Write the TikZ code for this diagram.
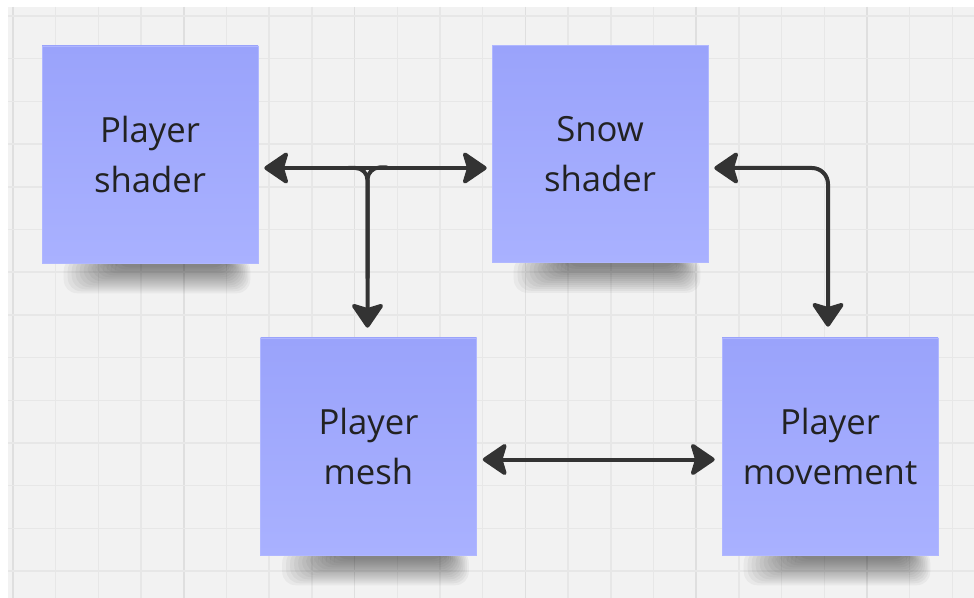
\documentclass[tikz,border=0pt]{standalone}
\usepackage{fontspec}
\setmainfont{Open Sans}
\usetikzlibrary{arrows.meta,calc}
\pgfdeclarelayer{grid}
\pgfdeclarelayer{shade}
\pgfsetlayers{grid,shade,main}
\definecolor{board}{HTML}{F2F2F2}
\definecolor{gridminor}{HTML}{E7E7E7}
\definecolor{gridmajor}{HTML}{DFDFDF}
\definecolor{noteTop}{HTML}{9AA3FB}
\definecolor{noteBot}{HTML}{A9B1FF}
\definecolor{noteEdge}{HTML}{B0B7FF}
\definecolor{ink}{HTML}{222222}
\definecolor{wire}{HTML}{333333}
\begin{document}
\begin{tikzpicture}[x=0.75pt,y=-0.75pt,
  note/.style={minimum width=162pt,minimum height=162.75pt,inner sep=0pt,
    top color=noteTop,bottom color=noteBot,draw=noteEdge,line width=0.4pt,
    align=center,text=ink,font=\fontsize{26}{38}\selectfont},
  link/.style={draw=wire,line width=3pt,line cap=round,
    {Stealth[length=20pt,width=27pt,inset=4pt,line join=round]}-{Stealth[length=20pt,width=27pt,inset=4pt,line join=round]}},
  arm/.style={draw=wire,line width=3pt,line cap=round},
  armhead/.style={-{Stealth[length=20pt,width=27pt,inset=4pt,line join=round]}},
  gridline/.style={draw=gridminor,line width=1.1pt},
  majorline/.style={draw=gridmajor,line width=1.3pt},
]
\useasboundingbox (0,0) rectangle (974,598);

% sticky notes
\node[note] (ps) at (150,154.5) {Player\\shader};
\node[note] (ss) at (600,154) {Snow\\shader};
\node[note] (pm) at (368.5,446.5) {Player\\mesh};
\node[note] (pv) at (830,446.5) {Player\\movement};

% board and grid
\begin{pgfonlayer}{grid}
  \fill[white] (0,0) rectangle (974,598);
  \fill[board] (8,7) rectangle (974,598);
  \foreach \k in {0,...,22}{
    \pgfmathtruncatemacro{\m}{mod(\k,4)}
    \ifnum\m=0
      \draw[majorline] ({13+42.7*\k},7) -- ({13+42.7*\k},598);
    \else
      \draw[gridline] ({13+42.7*\k},7) -- ({13+42.7*\k},598);
    \fi
  }
  \foreach \k in {0,...,13}
    \draw[gridline] (8,{16+42.7*\k}) -- (974,{16+42.7*\k});
\end{pgfonlayer}

% soft shadows under the notes: stacked translucent bands, denser toward the middle
\begin{pgfonlayer}{shade}
  \foreach \n in {ps,ss,pm,pv}{
    \foreach \i in {0,...,13}{
      \fill[black,opacity=0.04,rounded corners=10]
        ($(\n.south west)+(22+4*\i,-6)$) rectangle ($(\n.south east)+(-8-1.8*\i,30-2*\i)$);
    }
  }
\end{pgfonlayer}

% connectors
\draw[link] ($(ps.east)+(6,13.5)$) -- ($(ss.west)+(-5,14)$);
\draw[arm,armhead,rounded corners=9] ($(ps.east)+(90,13.5)$) -| ($(pm.north)+(-1,-10)$);
\draw[arm,rounded corners=9] ($(ss.west)+(-105,13.5)$) -| ($(pm.north)+(-1,-60)$);
\draw[link,rounded corners=12] ($(ss.east)+(6,14)$) -| ($(pv.north)+(-2,-11)$);
\draw[link] ($(pm.east)+(6,13)$) -- ($(pv.west)+(-7,13)$);
\end{tikzpicture}
\end{document}
